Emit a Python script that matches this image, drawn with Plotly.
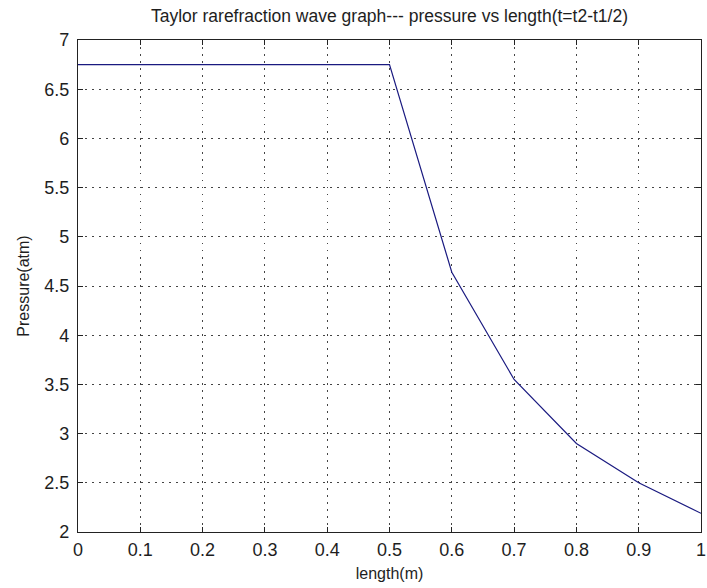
import plotly.graph_objects as go

length_m = [0.0, 0.1, 0.2, 0.3, 0.4, 0.5, 0.6, 0.7, 0.8, 0.9, 1.0]
pressure_atm = [6.75, 6.75, 6.75, 6.75, 6.75, 6.75, 4.64, 3.55, 2.90, 2.50, 2.19]

x_ticks = [0, 0.1, 0.2, 0.3, 0.4, 0.5, 0.6, 0.7, 0.8, 0.9, 1]
x_tick_text = ["0", "0.1", "0.2", "0.3", "0.4", "0.5", "0.6", "0.7", "0.8", "0.9", "1"]
y_ticks = [2, 2.5, 3, 3.5, 4, 4.5, 5, 5.5, 6, 6.5, 7]
y_tick_text = ["2", "2.5", "3", "3.5", "4", "4.5", "5", "5.5", "6", "6.5", "7"]

font_family = "Liberation Sans, Arial, sans-serif"
text_color = "#1e1e1e"

fig = go.Figure()
fig.add_trace(go.Scatter(
    x=length_m, y=pressure_atm, mode="lines",
    line=dict(color="#1a1a80", width=1.2),
    showlegend=False, hoverinfo="skip",
))

axis_common = dict(
    showline=True, linecolor="#222222", linewidth=1.3, mirror="ticks",
    ticks="inside", ticklen=5, tickcolor="#222222", tickwidth=1.3,
    showgrid=True, gridcolor="#444444", gridwidth=1, griddash="1.5px,5.5px",
    zeroline=False, ticklabeloverflow="allow", automargin=False,
    tickfont=dict(family=font_family, size=18, color=text_color),
)

fig.update_layout(
    width=707, height=588,
    margin=dict(l=78, r=6, t=40, b=56),
    paper_bgcolor="white", plot_bgcolor="white",
    font=dict(family=font_family, size=16, color=text_color),
    title=dict(
        text="Taylor rarefraction wave graph--- pressure vs length(t=t2-t1/2)",
        x=(78 + 701) / 2 / 707, xanchor="center",
        y=1 - 16 / 588, yanchor="middle",
        font=dict(family=font_family, size=17.5, color=text_color),
    ),
    xaxis=dict(
        range=[0, 1], tickvals=x_ticks, ticktext=x_tick_text,
        ticklabelstandoff=1,
        title=dict(text="length(m)", standoff=9,
                   font=dict(family=font_family, size=16, color=text_color)),
        **axis_common,
    ),
    yaxis=dict(
        range=[2, 7], tickvals=y_ticks, ticktext=y_tick_text,
        ticklabelstandoff=4,
        title=dict(text="Pressure(atm)", standoff=10,
                   font=dict(family=font_family, size=16, color=text_color)),
        **axis_common,
    ),
)

fig.write_html("out.html")
